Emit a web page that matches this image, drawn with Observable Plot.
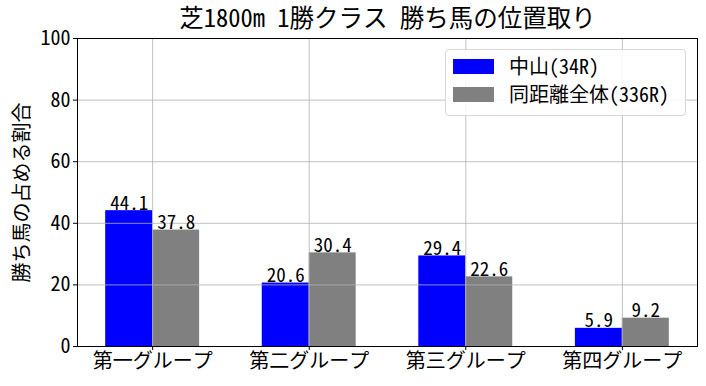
<!DOCTYPE html>
<html><head><meta charset="utf-8">
<script src="https://cdn.jsdelivr.net/npm/d3@7"></script>
<script src="https://cdn.jsdelivr.net/npm/@observablehq/plot@0.6"></script>
<style>
body{margin:0;background:#fff;}
#wrap{position:relative;width:706px;height:386px;font-family:"Noto Sans Mono CJK JP","Noto Sans CJK JP",sans-serif;}
#legend{position:absolute;left:445px;top:49px;width:241px;height:67px;border:1px solid #d8d8d8;border-radius:4px;background:rgba(255,255,255,0.85);box-sizing:border-box;font-size:20px;color:#000;}
.item{position:absolute;left:7px;display:flex;align-items:center;line-height:24px;}
.sw{width:41px;height:15px;margin-right:15px;}
</style></head>
<body><div id="wrap"><div id="legend"></div></div>
<script>
const categories = ["第一グループ","第二グループ","第三グループ","第四グループ"];
const seriesNames = ["中山(34R)","同距離全体(336R)"];
const nakayama = [44.1, 20.6, 29.4, 5.9];
const overall = [37.8, 30.4, 22.6, 9.2];
const yTicks = [0, 20, 40, 60, 80, 100];
const colors = ["#0000ff", "#808080"];

const W = 0.3;
const data = [];
categories.forEach((c, i) => {
  data.push({i, s: 0, v: nakayama[i], x1: i - W, x2: i});
  data.push({i, s: 1, v: overall[i], x1: i, x2: i + W});
});

const font = '"Noto Sans Mono CJK JP", "Noto Sans CJK JP", sans-serif';
const chart = Plot.plot({
  width: 706, height: 386,
  marginLeft: 77, marginRight: 9, marginTop: 38, marginBottom: 40,
  style: {fontFamily: font, fontSize: "18px", color: "#000", background: "#fff"},
  x: {type: "linear", domain: [-0.48, 3.48], axis: null},
  y: {domain: [0, 100], axis: null},
  marks: [
    Plot.rect(data, {x1: "x1", x2: "x2", y1: 0, y2: "v", fill: d => colors[d.s]}),
    Plot.gridX([0,1,2,3], {stroke: "#b0b0b0", strokeOpacity: 1, strokeWidth: 0.8}),
    Plot.gridY(yTicks, {stroke: "#b0b0b0", strokeOpacity: 1, strokeWidth: 0.8}),
    Plot.text(data, {x: d => (d.x1 + d.x2) / 2, y: "v", text: d => d.v.toFixed(1), textAnchor: "middle", lineAnchor: "bottom", dy: -1, fontSize: 19, fill: "#000"}),
    Plot.frame({stroke: "#000", strokeWidth: 1}),
    Plot.axisX([0,1,2,3], {tickFormat: i => categories[i], tickSize: 4, tickPadding: 3, fontSize: 20, stroke: "#000", label: null}),
    Plot.axisY(yTicks, {tickSize: 4, tickPadding: 3, fontSize: 20, label: null}),
    Plot.text(["勝ち馬の占める割合"], {frameAnchor: "left", textAnchor: "middle", dx: -55, rotate: -90, fontSize: 20, fill: "#000"}),
    Plot.text(["芝1800m 1勝クラス 勝ち馬の位置取り"], {frameAnchor: "top", lineAnchor: "middle", dy: -19, fontSize: 24.5, fill: "#000"})
  ]
});
document.getElementById("wrap").prepend(chart);

const leg = document.getElementById("legend");
seriesNames.forEach((n, k) => {
  const it = document.createElement("div");
  it.className = "item";
  it.style.top = (k === 0 ? 4 : 32) + "px";
  it.innerHTML = `<div class="sw" style="background:${colors[k]}"></div><span>${n}</span>`;
  leg.appendChild(it);
});
</script></body></html>
